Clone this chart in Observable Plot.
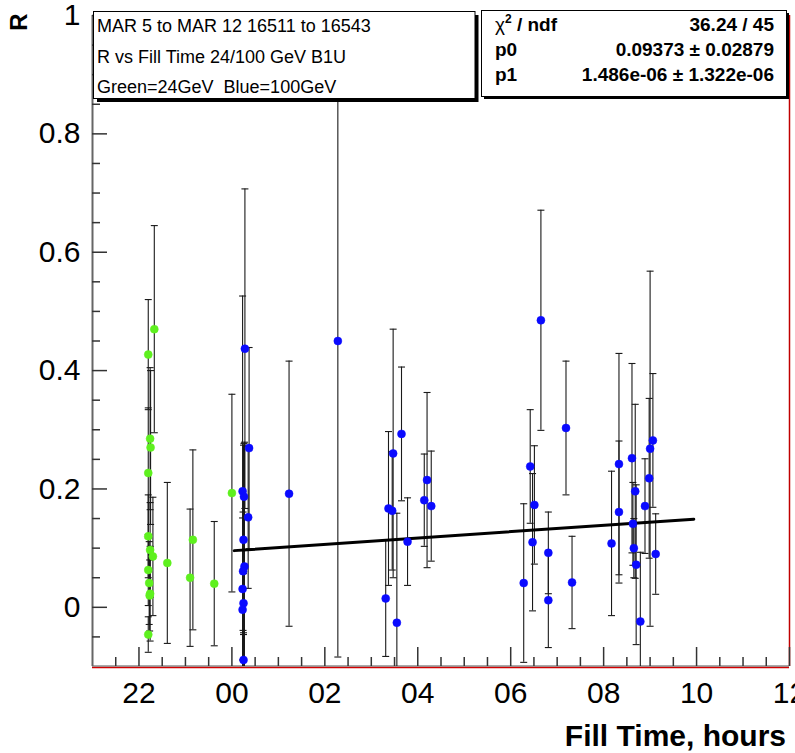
<!DOCTYPE html>
<html><head><meta charset="utf-8">
<script src="https://cdn.jsdelivr.net/npm/d3@7"></script>
<script src="https://cdn.jsdelivr.net/npm/@observablehq/plot@0.6"></script>
<style>body{margin:0;background:#fff;}</style>
</head><body><div id="chart"></div>
<script>
// ---- data (hours counted from midnight of the first day; 24 = 00h next day) ----
const greenHours = [22.33, 22.20, 22.24, 22.25, 22.20, 24.00, 22.20, 23.16, 22.24, 22.30, 22.61, 22.20, 23.10, 22.22, 23.62, 22.24, 22.23, 22.20];
const greenR     = [0.470, 0.427, 0.285, 0.270, 0.227, 0.193, 0.120, 0.114, 0.097, 0.086, 0.075, 0.063, 0.050, 0.041, 0.040, 0.023, 0.020, -0.046];
const greenErr   = [0.175, 0.093, 0.120, 0.130, 0.110, 0.167, 0.070, 0.152, 0.080, 0.100, 0.136, 0.060, 0.116, 0.070, 0.105, 0.080, 0.060, 0.030];

const blueHours = [24.28, 24.37, 24.23, 24.26, 24.35, 24.25, 24.27, 24.24, 24.23, 24.25, 24.23, 24.25,
  25.23, 26.28,
  27.31, 27.37, 27.45, 27.47, 27.55, 27.65, 27.78, 28.14, 28.20, 28.29,
  30.28, 30.42, 30.47, 30.51, 30.65, 30.81, 30.81, 31.19, 31.32,
  32.17, 32.33, 32.33, 32.61, 32.63, 32.65, 32.68, 32.70, 32.79, 32.89, 32.98, 33.00, 33.06, 33.12];
const blueR = [0.437, 0.269, 0.196, 0.187, 0.152, 0.114, 0.069, 0.061, 0.031, 0.007, -0.004, -0.089,
  0.192, 0.450,
  0.015, 0.167, 0.163, 0.260, -0.026, 0.293, 0.111, 0.181, 0.215, 0.171,
  0.041, 0.238, 0.110, 0.173, 0.485, 0.092, 0.012, 0.303, 0.042,
  0.108, 0.242, 0.161, 0.252, 0.141, 0.100, 0.196, 0.072, -0.024, 0.171, 0.218, 0.268, 0.282, 0.090];
const blueErr = [0.270, 0.170, 0.330, 0.090, 0.120, 0.160, 0.210, 0.100, 0.120, 0.050, 0.100, 0.200,
  0.224, 0.534,
  0.098, 0.130, 0.100, 0.210, 0.185, 0.113, 0.074, 0.078, 0.148, 0.093,
  0.134, 0.096, 0.116, 0.100, 0.186, 0.069, 0.080, 0.113, 0.078,
  0.122, 0.187, 0.120, 0.160, 0.070, 0.050, 0.147, 0.135, 0.117, 0.080, 0.135, 0.300, 0.113, 0.068];

// fit line end points
const fitHours = [24.05, 33.94];
const fitR     = [0.0958, 0.149];

// axis ticks and labels
const xTickValues = [22, 24, 26, 28, 30, 32, 34, 36];
const xTickLabels = ["22", "00", "02", "04", "06", "08", "10", "12"];
const yTickValues = [0, 0.2, 0.4, 0.6, 0.8, 1];
const yTickLabels = ["0", "0.2", "0.4", "0.6", "0.8", "1"];

// text
const infoLines = ["MAR 5 to MAR 12 16511 to 16543", "R vs Fill Time 24/100 GeV B1U", "Green=24GeV  Blue=100GeV"];
const statNames = ["p0", "p1"];
const statValues = ["36.24 / 45", "0.09373 \u00b1 0.02879", "1.486e-06 \u00b1 1.322e-06"];

// ---- build ----
const FONT = "'Liberation Sans', Arial, Helvetica, sans-serif";
const W = 795, H = 753, ML = 92, MR = 6, MT = 15, MB = 87;
const X_DOMAIN = [21, 36], Y_DOMAIN = [-0.1, 1];
const frameW = W - ML - MR, frameH = H - MT - MB;
const hoursPerPx = (X_DOMAIN[1] - X_DOMAIN[0]) / frameW;
const green = greenHours.map((x, i) => ({x, r: greenR[i], e: greenErr[i]}));
const blue = blueHours.map((x, i) => ({x, r: blueR[i], e: blueErr[i]}));
const fit = fitHours.map((x, i) => ({x, r: fitR[i]}));
const xMinor = d3.range(21.5, 36, 0.5).filter(v => v % 2 !== 0);
const yMinor = d3.range(-0.05, 1, 0.05).filter(v => Math.abs(v * 5 - Math.round(v * 5)) > 1e-6);

const cap = {draw(ctx, size) { const w = Math.sqrt(size / Math.PI); ctx.moveTo(-w, 0); ctx.lineTo(w, 0); }};
const barStroke = "#1a1a1a";
function errMarks(data) {
  return [
    Plot.ruleX(data, {x: "x", y1: d => d.r - d.e, y2: d => d.r + d.e, stroke: barStroke, strokeWidth: 1.1, clip: true}),
    Plot.dot(data, {x: "x", y: d => d.r - d.e, symbol: cap, r: 3.5, stroke: barStroke, strokeWidth: 1.1, fill: "none", clip: true}),
    Plot.dot(data, {x: "x", y: d => d.r + d.e, symbol: cap, r: 3.5, stroke: barStroke, strokeWidth: 1.1, fill: "none", clip: true})
  ];
}
const tickStyle = {stroke: "#333", strokeWidth: 1.5};

const plot = Plot.plot({
  width: W, height: H,
  marginLeft: ML, marginRight: MR, marginTop: MT, marginBottom: MB,
  style: {fontFamily: FONT, background: "#fff", color: "#000", overflow: "visible"},
  x: {domain: X_DOMAIN, axis: null},
  y: {domain: Y_DOMAIN, axis: null},
  marks: [
    // frame
    Plot.ruleX([36], {stroke: "#c00000", strokeWidth: 1.5}),
    Plot.ruleY([-0.1], {stroke: "#d00000", strokeWidth: 1.5, dy: 1}),
    Plot.ruleY([-0.1], {stroke: "#555", strokeWidth: 1.2, dy: -0.5}),
    Plot.ruleX([21], {stroke: "#666", strokeWidth: 2}),
    // ticks (inside the frame)
    Plot.ruleY(yTickValues, {y: d => d, x1: X_DOMAIN[0], x2: X_DOMAIN[0] + 15 * hoursPerPx, ...tickStyle}),
    Plot.ruleY(yMinor, {y: d => d, x1: X_DOMAIN[0], x2: X_DOMAIN[0] + 8 * hoursPerPx, ...tickStyle}),
    Plot.tickX(xTickValues, {x: d => d, insetTop: frameH - 19, ...tickStyle}),
    Plot.tickX(xMinor, {x: d => d, insetTop: frameH - 9, ...tickStyle}),
    // tick labels
    Plot.axisY({ticks: yTickValues, tickSize: 0, tickPadding: 12, tickFormat: d => yTickLabels[yTickValues.indexOf(d)], label: null, fontSize: 30}),
    Plot.axisX({ticks: xTickValues, tickSize: 0, tickPadding: 15, tickFormat: d => xTickLabels[xTickValues.indexOf(d)], label: null, fontSize: 30}),
    // data
    ...errMarks(green),
    Plot.dot(green, {x: "x", y: "r", r: 4, fill: "#5ef01e", stroke: "#5ef01e", strokeWidth: 0.5, clip: true}),
    ...errMarks(blue),
    Plot.line(fit, {x: "x", y: "r", stroke: "#000", strokeWidth: 3}),
    Plot.dot(blue, {x: "x", y: "r", r: 4, fill: "#0a0aff", stroke: "#0a0aff", strokeWidth: 0.5, clip: true})
  ]
});

const svg = d3.select(plot);
function txt(g, x, y, s, opts = {}) {
  return g.append("text").attr("x", x).attr("y", y)
    .attr("text-anchor", opts.anchor || "start")
    .attr("font-family", FONT)
    .attr("font-weight", opts.bold ? "bold" : "normal")
    .attr("font-size", opts.size || 18)
    .attr("fill", "#000")
    .style("white-space", "pre")
    .text(s);
}
// axis titles
txt(svg, 786, 746, "Fill Time, hours", {anchor: "end", bold: true, size: 30});
txt(svg, 0, 0, "R", {anchor: "middle", bold: true, size: 24}).attr("transform", "translate(27,22) rotate(-90)");

// info box
const b1 = svg.append("g");
b1.append("rect").attr("x", 97).attr("y", 15).attr("width", 381.5).attr("height", 87).attr("fill", "#000");
b1.append("rect").attr("x", 93.5).attr("y", 11.5).attr("width", 381.5).attr("height", 87).attr("fill", "#fff").attr("stroke", "#000").attr("stroke-width", 1);
infoLines.forEach((t, i) => txt(b1, 97, 32 + i * 30.5, t, {size: 18}));

// stats box
const b2 = svg.append("g");
b2.append("rect").attr("x", 484).attr("y", 13).attr("width", 305).attr("height", 86).attr("fill", "#000");
b2.append("rect").attr("x", 481.5).attr("y", 10.5).attr("width", 305).attr("height", 86).attr("fill", "#fff").attr("stroke", "#000").attr("stroke-width", 1);
const chi = txt(b2, 495, 31, "", {bold: true, size: 19});
chi.append("tspan").attr("font-weight", "normal").text("\u03c7");
chi.append("tspan").attr("font-size", 12).attr("dy", -8).text("2");
chi.append("tspan").attr("dy", 8).text(" / ndf");
statNames.forEach((t, i) => txt(b2, 495, 56 + i * 25, t, {bold: true, size: 19}));
statValues.forEach((t, i) => txt(b2, 774, 31 + i * 25, t, {anchor: "end", bold: true, size: 19}));

document.getElementById("chart").appendChild(plot);
</script>
</body></html>
